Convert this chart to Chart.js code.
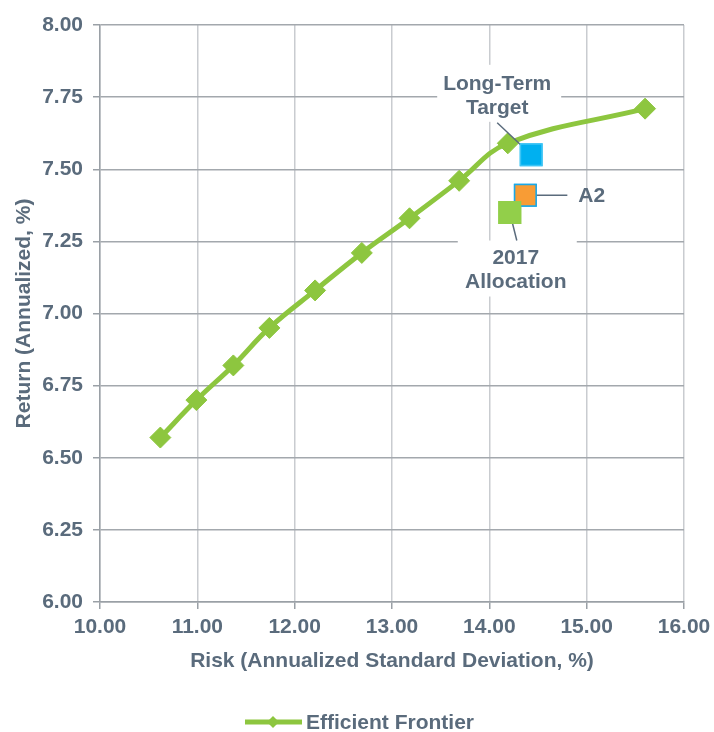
<!DOCTYPE html>
<html>
<head>
<meta charset="utf-8">
<script src="https://cdn.jsdelivr.net/npm/chart.js@4/dist/chart.umd.min.js"></script>
<style>
	html, body { margin: 0; padding: 0; background: #ffffff; }
	#wrap { width: 714px; height: 732px; position: relative; }
</style>
</head>
<body>
<div id="wrap"><canvas id="frontier" width="714" height="732"></canvas></div>
<script>
// Efficient frontier (risk %, return %)
const frontierRisk = [10.62, 10.99, 11.37, 11.74, 12.21, 12.69, 13.18, 13.69, 14.19, 15.60];
const frontierReturn = [6.57, 6.70, 6.82, 6.95, 7.08, 7.21, 7.33, 7.46, 7.59, 7.71];

// Portfolios plotted as squares
const portfolioNames = ["Long-Term Target", "A2", "2017 Allocation"];
const portfolioRisk = [14.43, 14.37, 14.21];
const portfolioReturn = [7.55, 7.41, 7.35];

const xTicks = [10, 11, 12, 13, 14, 15, 16];
const yTicks = [6.0, 6.25, 6.5, 6.75, 7.0, 7.25, 7.5, 7.75, 8.0];

const TEXT = "#5a6b7c";
const GREEN = "#8dc63f";
const FONT = "'Liberation Sans', Arial, sans-serif";
const FSIZE = 21;

const portfolioStyle = [
	{ fill: "#00b0f0", border: "#3cc4f5" },
	{ fill: "#f89c35", border: "#1aa8e8" },
	{ fill: "#92cf4a", border: "#92cf4a" },
];

// label layout relative to each square (pixels)
const labelLayout = [
	{ lines: ["Long-Term", "Target"], dx: -34, dy: -59, box: [-94, -90, 124, 57], lead: [-34, -32] },
	{ lines: ["A2"], dx: 53, dy: 1, align: "left", lead: [42, 0] },
	{ lines: ["2017", "Allocation"], dx: 6, dy: 58, box: [-52, 28, 119, 56], lead: [7, 28] },
];

const frontierData = frontierRisk.map((x, i) => ({ x: x, y: frontierReturn[i] }));

const portfolioSets = portfolioNames.map((name, i) => ({
	label: name,
	type: "scatter",
	data: [{ x: portfolioRisk[i], y: portfolioReturn[i] }],
	pointStyle: "rect",
	pointRadius: 15.2,
	pointHoverRadius: 15.2,
	backgroundColor: portfolioStyle[i].fill,
	borderColor: portfolioStyle[i].border,
	borderWidth: 1.5,
}));

//Labels, leader lines and legend
const labelsPlugin = {
	id: "portfolioLabels",
	afterDatasetsDraw(chart) {
		const ctx = chart.ctx;
		const xs = chart.scales.x;
		const ys = chart.scales.y;
		ctx.save();
		labelLayout.forEach((lab, i) => {
			const px = xs.getPixelForValue(portfolioRisk[i]);
			const py = ys.getPixelForValue(portfolioReturn[i]);
			if (lab.box) {
				ctx.fillStyle = "#ffffff";
				ctx.fillRect(px + lab.box[0], py + lab.box[1], lab.box[2], lab.box[3]);
			}
			ctx.strokeStyle = TEXT;
			ctx.lineWidth = 1.5;
			ctx.beginPath();
			ctx.moveTo(px, py);
			ctx.lineTo(px + lab.lead[0], py + lab.lead[1]);
			ctx.stroke();
		});
		// redraw squares over leader ends
		chart.getSortedVisibleDatasetMetas().forEach((meta) => {
			if (meta.type === "scatter") meta.controller.draw();
		});
		ctx.font = "bold " + FSIZE + "px " + FONT;
		ctx.fillStyle = TEXT;
		ctx.textBaseline = "middle";
		labelLayout.forEach((lab, i) => {
			const px = xs.getPixelForValue(portfolioRisk[i]);
			const py = ys.getPixelForValue(portfolioReturn[i]);
			ctx.textAlign = lab.align || "center";
			const n = lab.lines.length;
			lab.lines.forEach((t, k) => {
				const ty = py + lab.dy + (k - (n - 1) / 2) * 24;
				ctx.fillText(t, px + lab.dx, ty);
			});
		});

		// legend
		const ly = 722;
		const lx = 245;
		ctx.strokeStyle = GREEN;
		ctx.lineWidth = 5;
		ctx.beginPath();
		ctx.moveTo(lx, ly);
		ctx.lineTo(lx + 57, ly);
		ctx.stroke();
		ctx.fillStyle = GREEN;
		ctx.beginPath();
		ctx.moveTo(lx + 28 - 6, ly);
		ctx.lineTo(lx + 28, ly - 6);
		ctx.lineTo(lx + 28 + 6, ly);
		ctx.lineTo(lx + 28, ly + 6);
		ctx.closePath();
		ctx.fill();
		ctx.fillStyle = TEXT;
		ctx.textAlign = "left";
		ctx.fillText("Efficient Frontier", lx + 61, ly + 1);
		ctx.restore();
	},
};

const ctx = document.getElementById("frontier").getContext("2d");

new Chart(ctx, {
	type: "line",
	data: {
		datasets: [
			{
				label: "Efficient Frontier",
				data: frontierData,
				borderColor: GREEN,
				backgroundColor: GREEN,
				borderWidth: 5,
				tension: 0.4,
				pointStyle: "rectRot",
				pointRadius: 10.5,
				pointHoverRadius: 10.5,
				pointBorderWidth: 1,
				pointBackgroundColor: GREEN,
				pointBorderColor: GREEN,
				order: 2,
			},
			...portfolioSets,
		],
	},
	options: {
		responsive: false,
		animation: false,
		maintainAspectRatio: false,
		layout: { padding: { top: 25, right: 30, bottom: 50, left: 0 } },
		plugins: {
			legend: { display: false },
			tooltip: { enabled: false },
		},
		scales: {
			x: {
				type: "linear",
				min: 10,
				max: 16,
				afterBuildTicks: (s) => { s.ticks = xTicks.map((v) => ({ value: v })); },
				afterFit: (s) => {
					s.height = 80;
					s.paddingLeft = 0;
					s.paddingRight = 0;
				},
				grid: { color: "#c9ccd0", lineWidth: 1.5, tickLength: 7, tickColor: "#9aa0a6" },
				border: { color: "#9aa0a6", width: 1.5 },
				ticks: {
					color: TEXT,
					padding: 6,
					font: { family: FONT, size: FSIZE, weight: "bold" },
					callback: (v) => Number(v).toFixed(2),
					maxRotation: 0,
				},
				title: {
					display: true,
					text: "Risk (Annualized Standard Deviation, %)",
					color: TEXT,
					font: { family: FONT, size: FSIZE, weight: "bold" },
					padding: { top: 0, bottom: 8 },
				},
			},
			y: {
				type: "linear",
				min: 6,
				max: 8,
				afterBuildTicks: (s) => { s.ticks = yTicks.map((v) => ({ value: v })); },
				afterFit: (s) => {
					s.width = 100;
					s.paddingTop = 0;
					s.paddingBottom = 0;
				},
				grid: { color: "#a3a8ad", lineWidth: 1.5, tickLength: 7, tickColor: "#9aa0a6" },
				border: { color: "#9aa0a6", width: 1.5 },
				ticks: {
					color: TEXT,
					padding: 10,
					font: { family: FONT, size: FSIZE, weight: "bold" },
					callback: (v) => Number(v).toFixed(2),
				},
				title: {
					display: true,
					text: "Return (Annualized, %)",
					color: TEXT,
					font: { family: FONT, size: FSIZE, weight: "bold" },
					padding: { top: 12, bottom: 4 },
				},
			},
		},
	},
	plugins: [labelsPlugin],
});
</script>
</body>
</html>
